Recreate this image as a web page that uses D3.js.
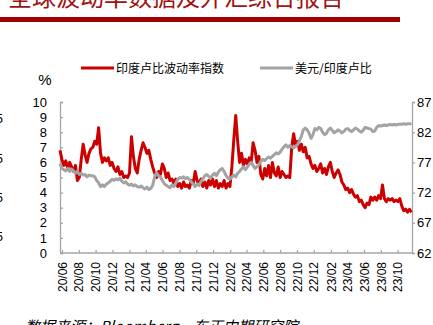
<!DOCTYPE html>
<html><head><meta charset="utf-8">
<script src="https://cdn.jsdelivr.net/npm/d3@7"></script>
<style>
html,body{margin:0;padding:0;background:#fff;overflow:hidden;}
svg text{font-family:"Liberation Sans","Noto Sans CJK SC",sans-serif;}
</style></head>
<body>
<svg id="c" width="433" height="325"></svg>
<script>
const title = "全球波动率数据及外汇综合报告";
const seriesNames = ["印度卢比波动率指数", "美元/印度卢比"];
const source = "数据来源：Bloomberg，东正中期研究院";
const leftTicks = [0,1,2,3,4,5,6,7,8,9,10];
const rightTicks = [62,67,72,77,82,87];
const xTickLabels = ["20/06","20/08","20/10","20/12","21/02","21/04","21/06","21/08","21/10","21/12",
  "22/02","22/04","22/06","22/08","22/10","22/12","23/02","23/04","23/06","23/08","23/10"];
const firstWeek = "2020-05-25";
// weekly observations
const inrVol = [
 6.8,6.2,5.8,6.1,5.6,6.0,5.7,5.4,5.8,4.8, 5.0,6.2,7.2,6.5,6.0,6.6,6.9,7.0,7.4,7.2,
 8.3,6.6,6.0,6.3,6.1,6.3,5.8,6.0,5.6,5.4, 5.7,5.2,5.4,5.0,5.1,5.0,5.3,7.7,6.4,5.6,
 5.3,6.2,6.8,7.3,7.0,6.6,6.8,6.2,5.7,5.3, 5.0,5.4,5.2,5.9,5.6,5.0,5.3,4.8,4.9,4.6,
 4.9,4.4,4.6,4.3,4.7,4.4,4.5,4.3,4.8,4.6, 5.4,4.8,4.5,4.9,4.4,4.7,4.3,4.8,4.5,4.9,
 4.4,4.8,4.3,4.6,4.4,4.8,4.3,4.6,4.4,5.7, 7.5,9.1,7.4,6.0,6.6,5.8,6.2,5.9,6.3,6.0,
 7.3,6.8,6.0,6.4,5.2,4.9,5.6,5.1,5.8,5.0, 6.0,5.3,5.1,5.7,5.0,5.4,5.2,5.0,5.1,5.0,
 7.0,7.9,7.1,7.4,6.8,7.2,6.7,7.0,6.3,6.4, 5.9,5.6,5.8,5.4,5.6,5.9,5.3,5.6,5.2,5.7,
 6.0,5.4,5.0,5.3,5.5,5.2,4.7,4.5,4.2,4.3, 4.0,4.2,3.9,3.7,3.8,3.4,3.5,3.2,3.0,3.3,
 3.2,3.7,3.5,3.7,3.5,3.8,3.6,4.5,3.6,3.4, 3.6,3.5,3.6,3.4,3.5,3.4,3.6,3.1,2.8,2.9,
 2.7,2.9,2.7
];
const usdInr = [
 76.8,76.0,75.8,75.6,76.0,75.5,75.9,75.6,75.2,75.5, 75.0,75.2,74.9,75.0,74.6,74.9,74.8,74.8,74.6,74.0,
 73.6,73.0,73.3,73.0,73.4,73.6,73.9,74.2,74.0,74.3, 74.1,74.4,73.9,73.6,73.8,73.4,73.2,73.4,73.1,73.3,
 73.0,72.9,73.1,72.8,72.6,72.9,72.5,72.7,73.2,74.6, 75.3,74.8,74.6,74.0,73.5,73.2,73.0,72.8,73.3,73.0,
 73.6,74.2,74.5,74.4,74.6,74.3,74.5,74.2,73.8,73.4, 73.0,73.4,73.2,73.8,74.3,74.8,75.0,74.7,74.4,74.9,
 75.2,74.8,75.4,75.8,76.0,75.5,74.8,74.4,74.2,74.6, 74.9,74.6,75.2,75.5,75.9,76.3,75.8,76.2,76.7,77.0,
 76.5,76.0,76.3,76.6,77.2,77.5,77.3,77.6,77.9,77.7, 78.0,78.3,78.6,78.4,78.7,79.2,79.6,79.9,79.5,79.8,
 79.6,79.4,79.7,79.9,80.6,81.3,82.4,82.7,82.4,81.8, 81.0,81.6,82.6,82.4,82.8,82.6,82.0,81.6,81.8,82.4,
 82.7,82.3,81.9,82.1,82.4,82.2,81.9,82.1,82.5,82.6, 82.3,82.1,82.4,82.7,82.5,82.2,82.0,82.3,82.8,82.7,
 82.6,82.5,82.1,82.2,82.8,83.1,83.0,83.1,83.2,83.1, 83.2,83.3,83.2,83.3,83.2,83.3,83.3,83.3,83.4,83.3,
 83.4,83.4,83.4
];

const svg = d3.select("#c");
const start = d3.timeParse("%Y-%m-%d")(firstWeek);
const dates = inrVol.map((_, i) => d3.timeDay.offset(start, 7 * i));

const x = d3.scaleTime().domain([start, new Date(2023, 10, 22)]).range([60, 412]);
const yL = d3.scaleLinear().domain([0, 10]).range([253, 102]);
const yR = d3.scaleLinear().domain([62, 87]).range([253, 102]);

// title (cut off at top)
svg.append("text").attr("x", 8).attr("y", 6).attr("font-size", 24)
  .attr("fill", "#9e1313").style("font-family", "Noto Sans CJK SC").text(title);
svg.append("rect").attr("x", 0).attr("y", 17).attr("width", 400).attr("height", 5).attr("fill", "#a00000");

// fragments of neighbouring chart labels
[118, 158, 197, 236].forEach(yy => {
  svg.append("text").attr("x", 3).attr("y", yy + 4.5).attr("text-anchor", "end")
    .attr("font-size", 13).attr("fill", "#000").text("5");
});

const axisColor = "#a6a6a6";
const gL = svg.append("g").attr("transform", "translate(60,0)")
  .call(d3.axisLeft(yL).tickValues(leftTicks).tickSize(-3).tickPadding(13).tickFormat(d3.format("d")));
const gR = svg.append("g").attr("transform", "translate(412,0)")
  .call(d3.axisRight(yR).tickValues(rightTicks).tickSize(3).tickPadding(2));
const tickDates = xTickLabels.map(d3.timeParse("%y/%m"));
const gB = svg.append("g").attr("transform", "translate(0,253)")
  .call(d3.axisBottom(x).tickValues(tickDates).tickSize(-3).tickPadding(0).tickFormat(d3.timeFormat("%y/%m")));
gB.selectAll("text").attr("transform", "rotate(-90)").attr("text-anchor", "end")
  .attr("x", -9).attr("y", 0).attr("dy", "0.35em");

[gL, gR, gB].forEach(g => {
  g.select(".domain").attr("stroke", axisColor).attr("stroke-width", 1.3);
  g.selectAll(".tick line").attr("stroke", axisColor).attr("stroke-width", 1.3);
  g.selectAll("text").attr("fill", "#000").attr("font-size", 13)
    .style("font-family", "Liberation Sans");
});
gB.selectAll("text").attr("font-size", 12);
gB.select(".domain").attr("d", "M60,0H412");

svg.append("text").attr("x", 45).attr("y", 85).attr("text-anchor", "middle")
  .attr("font-size", 15).style("font-family", "Liberation Sans").text("%");

const redLine = d3.line().x((d, i) => x(dates[i])).y(d => yL(d));
const grayLine = d3.line().x((d, i) => x(dates[i])).y(d => yR(d));
svg.append("path").datum(inrVol).attr("d", redLine).attr("fill", "none")
  .attr("stroke", "#cc0000").attr("stroke-width", 3).attr("stroke-linejoin", "round");
svg.append("path").datum(usdInr).attr("d", grayLine).attr("fill", "none")
  .attr("stroke", "#a3a3a3").attr("stroke-width", 3).attr("stroke-linejoin", "round");

const legend = [
  {name: seriesNames[0], color: "#cc0000", x0: 81},
  {name: seriesNames[1], color: "#a3a3a3", x0: 260}
];
legend.forEach(l => {
  svg.append("line").attr("x1", l.x0).attr("x2", l.x0 + 33).attr("y1", 68).attr("y2", 68)
    .attr("stroke", l.color).attr("stroke-width", 3);
  svg.append("text").attr("x", l.x0 + 35).attr("y", 72.5).attr("font-size", 12)
    .style("font-family", "Noto Sans CJK SC").attr("fill", "#000").text(l.name);
});

svg.append("text").attr("x", 25).attr("y", 332).attr("font-size", 15)
  .style("font-family", "Noto Sans CJK SC").style("font-style", "italic").attr("fill", "#000").text(source);
</script>
</body></html>
